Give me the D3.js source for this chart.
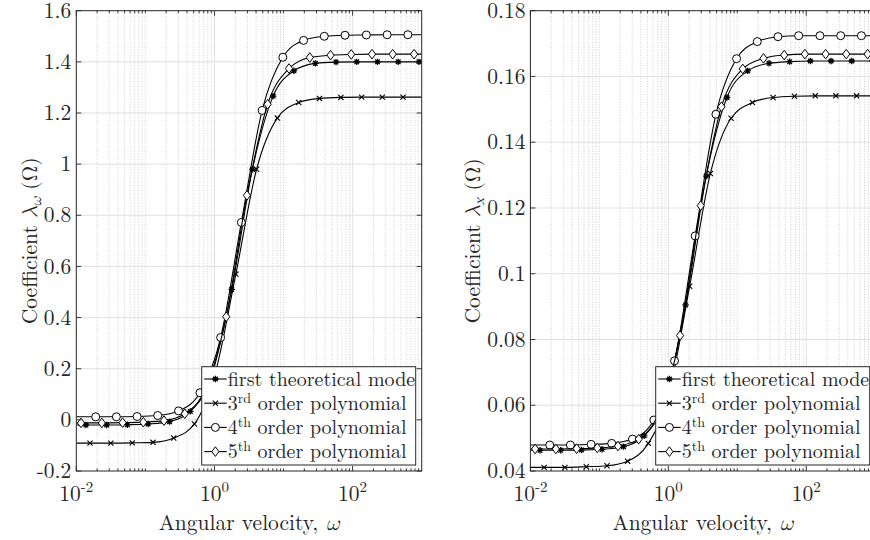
<!DOCTYPE html>
<html lang="en">
<head>
    <meta charset="UTF-8">
    <title>Coefficients vs angular velocity</title>
    <script src="https://cdn.jsdelivr.net/npm/d3@7"></script>
    <style>
        body {
            margin: 0;
            padding: 0;
            background: #fff;
        }
    </style>
</head>
<body>
    <svg id="chart" width="870" height="540"></svg>
    <script>
        // angular velocity where each series puts its markers
        const omegaTheory = [0.0138, 0.0275, 0.0550, 0.1096, 0.224, 0.447, 0.891, 1.778, 3.548, 7.079, 14.13, 28.84, 57.54, 114.8, 229.1, 457.1, 912];
        const omega3rd = [0.0158, 0.0316, 0.0646, 0.129, 0.257, 0.513, 1.0, 2.04, 4.07, 8.13, 16.6, 33.1, 67.6, 135, 269, 537];
        const omega4th = [0.0191, 0.038, 0.0759, 0.151, 0.302, 0.617, 1.23, 2.45, 4.90, 9.77, 19.5, 38.9, 77.6, 158, 316, 631];
        const omega5th = [0.0117, 0.0234, 0.0468, 0.0933, 0.186, 0.372, 0.741, 1.48, 2.95, 5.89, 12.0, 24.0, 47.9, 95.5, 191, 380, 776];

        // lambda_omega (left panel)
        const lamW_theory = [-0.02, -0.02, -0.019, -0.016, -0.007, 0.033, 0.165, 0.51, 0.98, 1.266, 1.365, 1.394, 1.399, 1.4, 1.4, 1.4, 1.4];
        const lamW_3rd = [-0.091, -0.091, -0.09, -0.088, -0.071, -0.016, 0.17, 0.57, 0.98, 1.18, 1.241, 1.257, 1.261, 1.262, 1.262, 1.262];
        const lamW_4th = [0.012, 0.012, 0.013, 0.017, 0.035, 0.106, 0.322, 0.772, 1.21, 1.418, 1.484, 1.5, 1.504, 1.505, 1.506, 1.506];
        const lamW_5th = [-0.012, -0.012, -0.011, -0.009, -0.003, 0.024, 0.122, 0.403, 0.878, 1.234, 1.374, 1.417, 1.426, 1.429, 1.43, 1.43, 1.43];

        // lambda_x (right panel)
        const lamX_theory = [0.0463, 0.0463, 0.0464, 0.0466, 0.0474, 0.0507, 0.0617, 0.0905, 0.1297, 0.1536, 0.1617, 0.1640, 0.1645, 0.1647, 0.1647, 0.1647, 0.1647];
        const lamX_3rd = [0.0411, 0.0411, 0.0413, 0.0416, 0.043, 0.0484, 0.0626, 0.0962, 0.1305, 0.1473, 0.1521, 0.1536, 0.154, 0.1541, 0.1541, 0.1541];
        const lamX_4th = [0.0479, 0.0479, 0.0481, 0.0484, 0.0497, 0.0555, 0.0735, 0.1115, 0.1485, 0.1654, 0.1706, 0.1721, 0.1724, 0.1724, 0.1724, 0.1724];
        const lamX_5th = [0.0467, 0.0467, 0.0468, 0.047, 0.0476, 0.0497, 0.058, 0.0812, 0.1207, 0.1508, 0.1623, 0.1655, 0.1665, 0.1668, 0.1668, 0.1668, 0.1668];

        const xDomain = [0.01, 1000];
        const xTickExps = [-2, 0, 2];
        const yTicksW = [-0.2, 0, 0.2, 0.4, 0.6, 0.8, 1, 1.2, 1.4, 1.6];
        const yTicksX = [0.04, 0.06, 0.08, 0.1, 0.12, 0.14, 0.16, 0.18];

        // legend: [main text, superscript, rest]
        const legendLabels = [
            ['first theoretical mode', '', ''],
            ['3', 'rd', ' order polynomial'],
            ['4', 'th', ' order polynomial'],
            ['5', 'th', ' order polynomial']
        ];
        const markerKinds = ['star', 'x', 'circle', 'diamond'];

        const svg = d3.select('#chart');
        const axisColor = '#262626';
        const textFont = "'Latin Modern Roman', 'Liberation Serif', serif";
        const greekFont = "'Latin Modern Math', 'Liberation Serif', serif";
        const fontSize = 21.5;
        const legendSize = 20;

        const panels = [
            {
                id: 'w', left: 76.3, right: 421.7, yDomain: [-0.2, 1.6], yTicks: yTicksW, sub: 'ω',
                labelX: 37, legendX: 201.7,
                series: [[omegaTheory, lamW_theory], [omega3rd, lamW_3rd], [omega4th, lamW_4th], [omega5th, lamW_5th]]
            },
            {
                id: 'x', left: 530.4, right: 875.2, yDomain: [0.04, 0.18], yTicks: yTicksX, sub: 'x',
                labelX: 480, legendX: 655.7,
                series: [[omegaTheory, lamX_theory], [omega3rd, lamX_3rd], [omega4th, lamX_4th], [omega5th, lamX_5th]]
            }
        ];

        const yTop = 10.7, yBottom = 471;

        function drawMarker(g, kind, cx, cy) {
            if (kind === 'circle') {
                g.append('circle').attr('cx', cx).attr('cy', cy).attr('r', 4)
                    .attr('fill', '#fff').attr('stroke', '#000').attr('stroke-width', 1);
            } else if (kind === 'diamond') {
                const w = 3.6, h = 4.8;
                g.append('path')
                    .attr('d', `M${cx},${cy - h}L${cx + w},${cy}L${cx},${cy + h}L${cx - w},${cy}Z`)
                    .attr('fill', '#fff').attr('stroke', '#000').attr('stroke-width', 1);
            } else if (kind === 'x') {
                const s = 2.6;
                g.append('path')
                    .attr('d', `M${cx - s},${cy - s}L${cx + s},${cy + s}M${cx - s},${cy + s}L${cx + s},${cy - s}`)
                    .attr('stroke', '#000').attr('stroke-width', 1.1);
            } else {
                const s = 3.2, d = 2.3;
                g.append('path')
                    .attr('d', `M${cx - s},${cy}L${cx + s},${cy}M${cx},${cy - s}L${cx},${cy + s}` +
                        `M${cx - d},${cy - d}L${cx + d},${cy + d}M${cx - d},${cy + d}L${cx + d},${cy - d}`)
                    .attr('stroke', '#000').attr('stroke-width', 1.3);
                g.append('circle').attr('cx', cx).attr('cy', cy).attr('r', 1.4).attr('fill', '#000');
            }
        }

        function addText(sel, size) {
            return sel.append('text').attr('font-family', textFont).attr('font-size', size).attr('fill', axisColor);
        }

        panels.forEach(p => {
            const x = d3.scaleLog().domain(xDomain).range([p.left, p.right]);
            const y = d3.scaleLinear().domain(p.yDomain).range([yBottom, yTop]);
            const g = svg.append('g');

            // minor grid + minor tick positions
            const minors = [];
            for (let k = -2; k <= 2; k++) {
                for (let m = 1; m <= 9; m++) {
                    const v = m * Math.pow(10, k);
                    if (m === 1 && xTickExps.includes(k)) continue;
                    if (v <= xDomain[0] || v >= xDomain[1]) continue;
                    minors.push(v);
                }
            }
            g.selectAll('.minor').data(minors).enter().append('line')
                .attr('x1', d => x(d)).attr('x2', d => x(d))
                .attr('y1', yTop).attr('y2', yBottom)
                .attr('stroke', '#c4c4c4').attr('stroke-width', 0.8)
                .attr('stroke-dasharray', '1,1.6');

            // major grid
            const majors = xTickExps.map(e => Math.pow(10, e)).filter(v => v > xDomain[0]);
            g.selectAll('.majx').data(majors).enter().append('line')
                .attr('x1', d => x(d)).attr('x2', d => x(d))
                .attr('y1', yTop).attr('y2', yBottom)
                .attr('stroke', '#dcdcdc').attr('stroke-width', 0.9);
            g.selectAll('.majy').data(p.yTicks.slice(1, -1)).enter().append('line')
                .attr('x1', p.left).attr('x2', p.right)
                .attr('y1', d => y(d)).attr('y2', d => y(d))
                .attr('stroke', '#dcdcdc').attr('stroke-width', 0.9);

            // curves
            const clipId = 'clip-' + p.id;
            svg.append('clipPath').attr('id', clipId).append('rect')
                .attr('x', p.left).attr('y', yTop).attr('width', p.right - p.left).attr('height', yBottom - yTop);
            const plot = g.append('g').attr('clip-path', `url(#${clipId})`);
            const line = d3.line().x(d => x(d[0])).y(d => y(d[1])).curve(d3.curveMonotoneX);

            p.series.forEach(([om, vals], i) => {
                const pts = om.map((o, j) => [o, vals[j]]);
                const full = [[xDomain[0], vals[0]], ...pts, [xDomain[1], vals[vals.length - 1]]];
                plot.append('path').attr('d', line(full))
                    .attr('fill', 'none').attr('stroke', '#000').attr('stroke-width', 1.1);
                const mg = plot.append('g');
                pts.forEach(d => drawMarker(mg, markerKinds[i], x(d[0]), y(d[1])));
            });

            // axes box
            g.append('rect').attr('x', p.left).attr('y', yTop)
                .attr('width', p.right - p.left).attr('height', yBottom - yTop)
                .attr('fill', 'none').attr('stroke', axisColor).attr('stroke-width', 1);

            // ticks
            const tk = g.append('g').attr('stroke', axisColor).attr('stroke-width', 0.9);
            majors.concat([xDomain[0]]).forEach(v => {
                tk.append('line').attr('x1', x(v)).attr('x2', x(v)).attr('y1', yBottom).attr('y2', yBottom - 5);
                tk.append('line').attr('x1', x(v)).attr('x2', x(v)).attr('y1', yTop).attr('y2', yTop + 5);
            });
            minors.forEach(v => {
                tk.append('line').attr('x1', x(v)).attr('x2', x(v)).attr('y1', yBottom).attr('y2', yBottom - 2.6);
                tk.append('line').attr('x1', x(v)).attr('x2', x(v)).attr('y1', yTop).attr('y2', yTop + 2.6);
            });
            p.yTicks.forEach(v => {
                tk.append('line').attr('x1', p.left).attr('x2', p.left + 5).attr('y1', y(v)).attr('y2', y(v));
                tk.append('line').attr('x1', p.right).attr('x2', p.right - 5).attr('y1', y(v)).attr('y2', y(v));
            });

            // y tick labels
            p.yTicks.forEach(v => {
                addText(g, fontSize).attr('x', p.left - 5).attr('y', y(v)).attr('dy', '0.33em')
                    .attr('text-anchor', 'end').text(String(+v.toFixed(2)));
            });

            // x tick labels 10^k
            xTickExps.forEach(e => {
                const t = addText(g, fontSize).attr('x', x(Math.pow(10, e))).attr('y', 501)
                    .attr('text-anchor', 'middle');
                t.append('tspan').text('10');
                t.append('tspan').attr('dy', -9).attr('font-size', 15).text(String(e));
            });

            // axis labels
            const xl = addText(g, fontSize).attr('x', (p.left + p.right) / 2).attr('y', 530)
                .attr('text-anchor', 'middle');
            xl.append('tspan').text('Angular velocity, ');
            xl.append('tspan').attr('font-family', greekFont).attr('font-style', 'italic').text('ω');

            const yl = addText(g, fontSize)
                .attr('transform', `translate(${p.labelX},${(yTop + yBottom) / 2}) rotate(-90)`)
                .attr('text-anchor', 'middle');
            yl.append('tspan').text('Coefficient ');
            yl.append('tspan').attr('font-family', greekFont).attr('font-style', 'italic').text('λ');
            yl.append('tspan').attr('font-family', greekFont).attr('font-style', 'italic')
                .attr('font-size', 15).attr('dy', 4).text(p.sub);
            yl.append('tspan').attr('dy', -4).text(' (');
            yl.append('tspan').attr('font-family', greekFont).text('Ω');
            yl.append('tspan').text(')');

            // legend
            const lx = p.legendX, ly = 366.7, lw = 214, lh = 98.3;
            const lg = g.append('g');
            lg.append('rect').attr('x', lx).attr('y', ly).attr('width', lw).attr('height', lh)
                .attr('fill', '#fff').attr('stroke', axisColor).attr('stroke-width', 1);
            legendLabels.forEach((lab, i) => {
                const cy = 379 + i * 24.2;
                lg.append('line').attr('x1', lx + 2.5).attr('x2', lx + 25).attr('y1', cy).attr('y2', cy)
                    .attr('stroke', '#000').attr('stroke-width', 1.1);
                drawMarker(lg, markerKinds[i], lx + 13.7, cy);
                const t = addText(lg, legendSize).attr('x', lx + 26).attr('y', cy + 6.5);
                t.append('tspan').text(lab[0]);
                if (lab[1]) {
                    t.append('tspan').attr('dy', -7).attr('font-size', 14).text(lab[1]);
                    t.append('tspan').attr('dy', 7).text(lab[2]);
                }
            });
        });
    </script>
</body>
</html>
